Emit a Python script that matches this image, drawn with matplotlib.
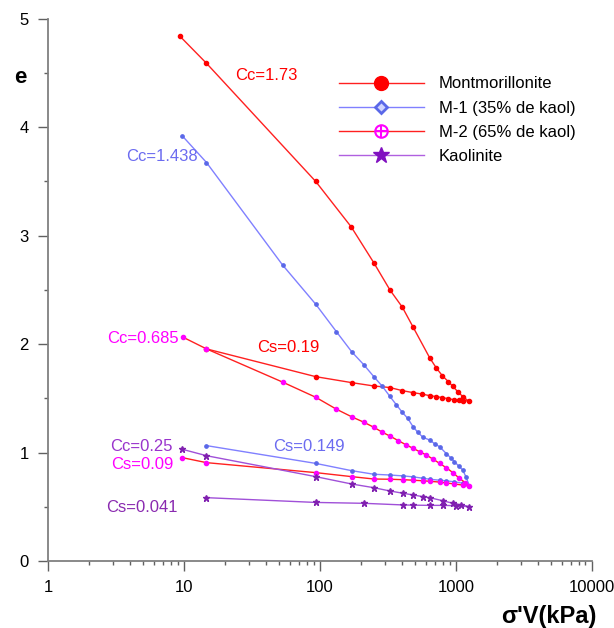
import numpy as np
import matplotlib
matplotlib.use('Agg')
import matplotlib.pyplot as plt
from matplotlib.lines import Line2D

plt.rcParams['font.family'] = ['Liberation Sans', 'DejaVu Sans']

#=============================== data ===============================
# Montmorillonite : loading then unloading
mont_s = [9.3, 14.6, 93, 170, 249, 327, 404, 483, 641, 718, 794, 880, 951, 1035, 1125, 1240,
          1125, 1050, 962, 880, 794, 718, 641, 560, 483, 404, 326, 249, 171, 93, 14.6]
mont_e = [4.84, 4.59, 3.50, 3.08, 2.75, 2.50, 2.34, 2.16, 1.875, 1.78, 1.71, 1.654, 1.61, 1.56, 1.516, 1.475,
          1.479, 1.482, 1.488, 1.497, 1.507, 1.516, 1.525, 1.54, 1.553, 1.571, 1.60, 1.614, 1.645, 1.70, 1.956]

# M-1 (35% de kaol)
m1_s = [9.7, 14.6, 53, 93, 132, 171, 210, 249, 288, 326, 365, 404, 442, 483, 522, 573, 641,
        700, 759, 851, 920, 977, 1050, 1123, 1190, 1260,
        1123, 977, 851, 759, 641, 573, 483, 407, 326, 249, 171, 93, 14.6]
m1_e = [3.92, 3.675, 2.73, 2.368, 2.115, 1.93, 1.81, 1.70, 1.61, 1.52, 1.44, 1.37, 1.316, 1.24, 1.19, 1.14, 1.116,
        1.08, 1.054, 0.99, 0.95, 0.916, 0.875, 0.84, 0.772, 0.69,
        0.717, 0.73, 0.739, 0.745, 0.754, 0.763, 0.776, 0.785, 0.793, 0.80, 0.833, 0.90, 1.064]

# M-2 (65% de kaol)
m2_s = [9.8, 14.6, 53, 93, 132, 171, 210, 249, 288, 326, 377, 432, 483, 541, 605, 678, 759,
        851, 950, 1060, 1175, 1260,
        1123, 977, 851, 759, 641, 573, 483, 407, 326, 249, 171, 93, 14.6, 9.7]
m2_e = [2.064, 1.956, 1.65, 1.51, 1.40, 1.33, 1.28, 1.233, 1.187, 1.153, 1.11, 1.07, 1.04, 1.008, 0.978, 0.94, 0.90,
        0.86, 0.815, 0.763, 0.722, 0.69,
        0.70, 0.71, 0.72, 0.728, 0.735, 0.74, 0.745, 0.75, 0.754, 0.756, 0.778, 0.815, 0.907, 0.953]

# Kaolinite
kao_s = [9.7, 14.6, 93, 171, 249, 326, 407, 483, 573, 641, 800, 951, 1096, 1260,
         1000, 800, 641, 483, 407, 210, 93, 14.6]
kao_e = [1.03, 0.971, 0.778, 0.71, 0.676, 0.646, 0.625, 0.609, 0.593, 0.584, 0.556, 0.532, 0.517, 0.50,
         0.51, 0.513, 0.513, 0.515, 0.517, 0.532, 0.54, 0.584]

labels = ['Montmorillonite', 'M-1 (35% de kaol)', 'M-2 (65% de kaol)', 'Kaolinite']

# annotations: text, stress, e, colour
notes = [('Cc=1.73', 40, 4.48, '#ff0000'),
         ('Cc=1.438', 6.9, 3.73, '#6b6bf0'),
         ('Cc=0.685', 4.98, 2.05, '#ff00ff'),
         ('Cs=0.19', 58, 1.97, '#ff0000'),
         ('Cc=0.25', 4.86, 1.06, '#9933cc'),
         ('Cs=0.09', 4.9, 0.886, '#ff00ff'),
         ('Cs=0.149', 82.6, 1.06, '#6b6bf0'),
         ('Cs=0.041', 4.85, 0.49, '#8a2ab0')]

#=============================== figure ===============================
fig = plt.figure(figsize=(6.14, 6.28), dpi=100)
ax = fig.add_axes([0.0787, 0.1067, 0.885, 0.8633])

ax.plot(mont_s, mont_e, color='#ff2020', lw=1, marker='o', ms=3, mfc='#ff0000', mec='#ff0000')
ax.plot(m1_s, m1_e, color='#8080ff', lw=1, marker='o', ms=2.4, mfc='#5a68e8', mec='#5a68e8')
ax.plot(m2_s, m2_e, color='#ff2020', lw=1, marker='o', ms=3, mfc='#ff00ff', mec='#ff00ff')
ax.plot(kao_s, kao_e, color='#a050d8', lw=1, marker='*', ms=4.5, mfc='#8020b0', mec='#8020b0')

for txt, sx, ey, c in notes:
    ax.text(sx, ey, txt, color=c, fontsize=12, ha='center', va='center')

ax.set_xscale('log')
ax.set_xlim(1, 10000)
ax.set_ylim(0, 5)
ax.set_xticks([1, 10, 100, 1000, 10000])
ax.set_xticklabels(['1', '10', '100', '1000', '10000'])
ax.set_yticks([0, 1, 2, 3, 4, 5])
ax.set_yticks(np.arange(0.5, 5, 1), minor=True)

for s in ['top', 'right']:
    ax.spines[s].set_visible(False)
for s in ['left', 'bottom']:
    ax.spines[s].set_color('#808080')
    ax.spines[s].set_linewidth(1.3)
ax.tick_params(which='major', length=7, width=1, color='#606060', labelsize=12, pad=7)
ax.tick_params(which='minor', length=3, width=1, color='#606060')

fig.text(0.033, 0.877, 'e', fontsize=16, fontweight='bold', ha='center', va='center')
fig.text(0.972, 0.018, "σ'V(kPa)", fontsize=17, fontweight='bold', ha='right', va='center')

# legend with the big markers
h_mont = Line2D([], [], color='#ff2020', lw=1, marker='o', ms=10, mfc='#ff0000', mec='#ff0000')
h_m1 = Line2D([], [], color='#8080ff', lw=1, marker='D', ms=6.5, mfc='#d0d4ff', mec='#5a68e8', mew=2)
h_m2a = Line2D([], [], color='#ff2020', lw=1, marker='o', ms=9, mfc='none', mec='#ff00ff', mew=1.5)
h_m2b = Line2D([], [], color='none', lw=0, marker='+', ms=9, mec='#ff00ff', mew=1.5)
h_kao = Line2D([], [], color='#b060e0', lw=1, marker='*', ms=12, mfc='#8010c0', mec='#8010c0')
ax.legend([h_mont, h_m1, (h_m2a, h_m2b), h_kao], labels, loc='upper left',
          bbox_to_anchor=(0.522, 0.906), frameon=False, fontsize=12, handlelength=5.1,
          handletextpad=0.9, labelspacing=0.55, borderaxespad=0)

fig.savefig('out.png', dpi=100)
